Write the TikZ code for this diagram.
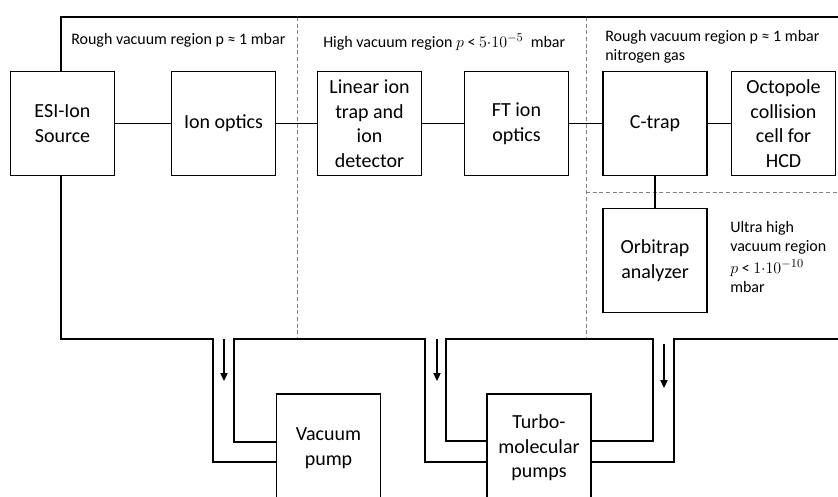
\documentclass[tikz,border=0pt]{standalone}
\usepackage{fontspec}
\setmainfont{Carlito}
\usepackage{tikz}
\usetikzlibrary{arrows.meta}
\definecolor{dashgray}{HTML}{7F7F7F}
\newcommand{\boxfont}{\fontsize{15}{18.4}\selectfont}
\newcommand{\labelfont}{\fontsize{12}{14.3}\selectfont}
\newcommand{\mathbig}[1]{{\fontsize{12.8}{14.3}\selectfont$#1$}}

\begin{document}
\begin{tikzpicture}[x=0.75pt,y=-0.75pt,
    blk/.style={draw,fill=white,line width=0.8pt,minimum width=78pt,minimum height=78.5pt,
      align=center,inner sep=1pt,font=\boxfont},
    wall/.style={line width=2.2pt,line join=miter},
    region/.style={dashgray,densely dashed,line width=0.6pt},
    flow/.style={line width=0.8pt,-{Triangle[length=6pt,width=5.5pt]}},
    lbl/.style={align=left,anchor=west,inner sep=0pt,font=\labelfont}]
  \clip (0,0) rectangle (838,496);
  \draw[region] (297,17) -- (297,339);
  \draw[region] (586,17) -- (586,339);
  \draw[region] (586,192) -- (838,192);
  \draw[wall] (838,17) -- (61,17) -- (61,339) -- (213,339) -- (213,462) -- (276,462);
  \draw[wall] (276,442) -- (234,442) -- (234,339) -- (425,339) -- (425,462) -- (487,462);
  \draw[wall] (487,441) -- (446,441) -- (446,339) -- (653,339) -- (653,441) -- (591,441);
  \draw[wall] (591,462) -- (674,462) -- (674,339) -- (838,339);
  \node[blk] (esi) at (62.5,123.5) {ESI-Ion\\Source};
  \node[blk] (optics) at (223.5,123.5) {Ion optics};
  \node[blk] (lit) at (369.5,123.5) {Linear ion\\trap and\\ion\\detector};
  \node[blk] (ftoptics) at (516.5,123.5) {FT ion\\optics};
  \node[blk] (ctrap) at (655,123.5) {C-trap};
  \node[blk] (octo) at (783.5,123.5) {Octopole\\collision\\cell for\\HCD};
  \node[blk] (orbi) at (655,260.5) {Orbitrap\\analyzer};
  \node[blk,minimum height=81pt] (vpump) at (328.5,448) {Vacuum\\pump};
  \node[blk,minimum height=81pt] (turbo) at (539,448) {Turbo-\\molecular\\pumps};
  \draw[line width=0.8pt] (esi) -- (optics);
  \draw[line width=0.8pt] (optics) -- (lit);
  \draw[line width=0.8pt] (lit) -- (ftoptics);
  \draw[line width=0.8pt] (ftoptics) -- (ctrap);
  \draw[line width=0.8pt] (ctrap) -- (octo);
  \draw[line width=0.8pt] (ctrap) -- (orbi);
  \draw[flow] (224,339) -- (224,381);
  \draw[flow] (437,339) -- (437,381);
  \draw[flow] (664,344) -- (664,388);
  \node[lbl] (roughlbl) at (71,40) {Rough vacuum region p ≈ 1 mbar};
  \node[lbl] (highlbl) at (323,42) {High vacuum region \mathbig{p} < \mathbig{5{\cdot}10^{-5}}~ mbar};
  \node[lbl] (nitrolbl) at (605,47) {Rough vacuum region p ≈ 1 mbar\\nitrogen gas};
  \node[lbl] (uhvlbl) at (730,257) {Ultra high\\vacuum region\\[1.5pt]\mathbig{p} < \mathbig{1{\cdot}10^{-10}}\\mbar};
\end{tikzpicture}
\end{document}
